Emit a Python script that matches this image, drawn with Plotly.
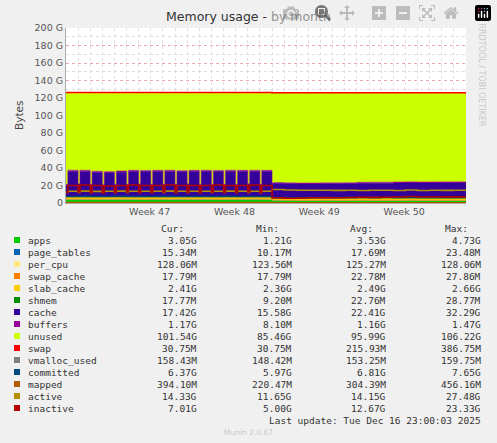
import plotly.graph_objects as go

# time axis: days since start of month view, two samples per day (daily notch + rest of day)
days = list(range(34))

# values in GB, one per day; "_lo" = short dip at start of each day
apps = [4.3, 4.3, 4.2, 4.3, 4.4, 4.3, 4.2, 4.3, 4.3, 4.4, 4.3, 4.3, 4.2, 4.3, 4.3, 4.4, 4.3,
        3.2, 3.1, 3.0, 3.0, 3.1, 3.0, 3.0, 3.1, 3.0, 3.0, 3.0, 3.1, 3.0, 3.0, 3.0, 3.0, 3.05]
page_tables = [0.02] * 17 + [0.015] * 17
per_cpu = [0.125] * 34
swap_cache = [0.025] * 17 + [0.018] * 17
slab_cache = [2.6, 2.6, 2.5, 2.5, 2.6, 2.5, 2.5, 2.5, 2.6, 2.5, 2.5, 2.5, 2.5, 2.6, 2.5, 2.5, 2.5,
              2.4, 2.4, 2.4, 2.4, 2.4, 2.4, 2.4, 2.4, 2.4, 2.4, 2.4, 2.4, 2.4, 2.4, 2.4, 2.4, 2.41]
shmem = [0.025] * 17 + [0.018] * 17
cache_hi = [29.0, 29.0, 28.0, 27.5, 28.0, 29.0, 29.0, 29.0, 29.0, 28.5, 29.0, 29.0, 29.0, 29.0, 29.0, 29.0, 29.0,
            16.5, 16.2, 16.0, 16.0, 16.2, 16.3, 16.5, 16.8, 17.0, 17.0, 17.2, 17.3, 17.2, 17.3, 17.4, 17.4, 17.42]
cache_lo = [13.0, 13.5, 13.0, 12.5, 13.0, 13.0, 13.5, 13.0, 13.0, 13.0, 13.5, 13.0, 13.0, 13.0, 13.0, 13.5, 13.0,
            16.0, 16.2, 16.0, 16.0, 16.2, 16.3, 16.5, 16.8, 17.0, 17.0, 17.2, 17.3, 17.2, 17.3, 17.4, 17.4, 17.42]
buffers = [1.35] * 17 + [1.15] * 17
unused_hi = [88.5, 88.5, 89.6, 90.0, 89.3, 88.5, 88.6, 88.5, 88.4, 89.0, 88.5, 88.5, 88.6, 88.5, 88.5, 88.4, 88.5,
             102.6, 103.0, 103.3, 103.3, 103.0, 103.0, 102.8, 102.4, 102.3, 102.3, 102.1, 101.9, 102.1, 102.0, 101.9, 101.9, 101.54]
unused_lo = [104.5, 104.0, 104.6, 105.0, 104.3, 104.5, 104.1, 104.5, 104.4, 104.5, 104.0, 104.5, 104.6, 104.5, 104.5, 103.9, 104.5,
             103.1, 103.0, 103.3, 103.3, 103.0, 103.0, 102.8, 102.4, 102.3, 102.3, 102.1, 101.9, 102.1, 102.0, 101.9, 101.9, 101.54]
swap = [0.38] * 17 + [0.03] * 17
vmalloc_used = [0.16] * 17 + [0.155] * 17
committed = [7.5, 7.6, 7.4, 7.5, 7.6, 7.5, 7.4, 7.5, 7.6, 7.5, 7.5, 7.4, 7.5, 7.6, 7.5, 7.5, 7.5,
             6.1, 6.0, 6.2, 6.3, 6.2, 6.3, 6.4, 6.3, 6.4, 6.5, 6.4, 6.3, 6.4, 6.4, 6.3, 6.4, 6.37]
mapped = [0.42] * 17 + [0.3] * 17
active_hi = [13.5, 13.6, 13.3, 13.5, 13.6, 13.5, 13.4, 13.5, 13.6, 13.5, 13.5, 13.4, 13.5, 13.6, 13.5, 13.5, 13.5,
             15.5, 14.8, 14.5, 14.6, 14.5, 14.4, 14.5, 14.3, 14.6, 14.5, 14.2, 14.8, 14.3, 14.5, 14.4, 14.5, 14.33]
active_lo = [12.0, 12.2, 12.0, 12.1, 12.0, 12.2, 12.0, 12.1, 12.0, 12.0, 12.2, 12.0, 12.1, 12.0, 12.0, 12.1, 12.0,
             15.5, 14.8, 14.5, 14.6, 14.5, 14.4, 14.5, 14.3, 14.6, 14.5, 14.2, 14.8, 14.3, 14.5, 14.4, 14.5, 14.33]
inactive_hi = [20.0, 20.5, 20.0, 19.5, 20.0, 20.5, 20.0, 20.0, 20.5, 20.0, 20.0, 20.0, 20.5, 20.0, 20.0, 20.5, 20.0,
               6.0, 5.5, 5.8, 6.0, 6.2, 6.0, 6.3, 6.5, 6.4, 6.6, 6.8, 7.5, 6.8, 6.9, 7.0, 7.0, 7.01]
inactive_lo = [12.0, 12.5, 12.0, 11.5, 12.0, 12.5, 12.0, 12.0, 12.5, 12.0, 12.0, 12.0, 12.5, 12.0, 12.0, 12.5, 12.0,
               6.0, 5.5, 5.8, 6.0, 6.2, 6.0, 6.3, 6.5, 6.4, 6.6, 6.8, 7.5, 6.8, 6.9, 7.0, 7.0, 7.01]

names = ["apps", "page_tables", "per_cpu", "swap_cache", "slab_cache", "shmem", "cache", "buffers",
         "unused", "swap", "vmalloc_used", "committed", "mapped", "active", "inactive"]
colors = ["#00CC00", "#0066B3", "#FFE680", "#FF8000", "#FFCC00", "#008F00", "#330099", "#990099",
          "#CCFF00", "#FF0000", "#808080", "#00487D", "#B35A00", "#B38F00", "#B30000"]
cur = ["3.05G", "15.34M", "128.06M", "17.79M", "2.41G", "17.77M", "17.42G", "1.17G", "101.54G",
       "30.75M", "158.43M", "6.37G", "394.10M", "14.33G", "7.01G"]
mins = ["1.21G", "10.17M", "123.56M", "17.79M", "2.36G", "9.20M", "15.58G", "8.10M", "85.46G",
        "30.75M", "148.42M", "5.97G", "220.47M", "11.65G", "5.00G"]
avgs = ["3.53G", "17.69M", "125.27M", "22.78M", "2.49G", "22.76M", "22.41G", "1.16G", "95.99G",
        "215.93M", "153.25M", "6.81G", "304.39M", "14.15G", "12.67G"]
maxs = ["4.73G", "23.48M", "128.06M", "27.86M", "2.66G", "28.77M", "32.29G", "1.47G", "106.22G",
        "386.75M", "159.75M", "7.65G", "456.16M", "27.48G", "23.33G"]
week_pos = [6.9, 13.9, 20.9, 27.9]
week_labels = ["Week 47", "Week 48", "Week 49", "Week 50"]
ytick_vals = [0, 20, 40, 60, 80, 100, 120, 140, 160, 180, 200]
ytick_text = ["0", "20 G", "40 G", "60 G", "80 G", "100 G", "120 G", "140 G", "160 G", "180 G", "200 G"]


def expand(lo, hi):
    out = []
    for a, b in zip(lo, hi):
        out += [a * 1e9, b * 1e9]
    return out


x = []
for d in days:
    x += [d, d + 0.15]

series = {
    "apps": expand(apps, apps), "page_tables": expand(page_tables, page_tables),
    "per_cpu": expand(per_cpu, per_cpu), "swap_cache": expand(swap_cache, swap_cache),
    "slab_cache": expand(slab_cache, slab_cache), "shmem": expand(shmem, shmem),
    "cache": expand(cache_lo, cache_hi), "buffers": expand(buffers, buffers),
    "unused": expand(unused_lo, unused_hi), "swap": expand(swap, swap),
    "vmalloc_used": expand(vmalloc_used, vmalloc_used), "committed": expand(committed, committed),
    "mapped": expand(mapped, mapped), "active": expand(active_lo, active_hi),
    "inactive": expand(inactive_lo, inactive_hi),
}
stacked = names[:10]

fig = go.Figure()
for n, c in zip(names, colors):
    if n in stacked:
        fig.add_trace(go.Scatter(x=x, y=series[n], stackgroup="mem", mode="lines",
                                 line=dict(width=0.6 if n != "swap" else 1.5, color=c, shape="hv"),
                                 fillcolor=c, name=n))
    else:
        fig.add_trace(go.Scatter(x=x, y=series[n], mode="lines",
                                 line=dict(width=1.6, color=c, shape="hv"), name=n))

L, R, T, B = 66, 466, 28, 203


def px(xp):
    return (xp - L) / (R - L)


def py(yp):
    return (B - yp) / (B - T)


mono = dict(family="DejaVu Sans Mono", size=9.5, color="#333333")
ann = [
    dict(text="Memory usage - by month", x=px(248), y=py(17), font=dict(family="DejaVu Sans", size=12.5, color="#333333")),
    dict(text="Bytes", x=px(11), y=py(115), textangle=-90, font=dict(family="DejaVu Sans", size=10.5, color="#444444")),
    dict(text="RRDTOOL / TOBI OETIKER", x=px(488), y=py(75), textangle=90, font=dict(family="DejaVu Sans", size=8, color="#c8c8c8")),
    dict(text="Munin 2.0.67", x=px(248), y=py(432), font=dict(family="DejaVu Sans", size=7.5, color="#c8c8c8")),
    dict(text="Last update: Tue Dec 16 23:00:03 2025", x=px(483), y=py(420), xanchor="right", font=mono),
]
for label, xr in zip(["Cur:", "Min:", "Avg:", "Max:"], [186, 281, 375, 470]):
    ann.append(dict(text=label, x=px(xr), y=py(228), xanchor="right", font=mono))
shapes = []
for i, n in enumerate(names):
    yy = 240 + i * 12
    ann.append(dict(text=n, x=px(26), y=py(yy), xanchor="left", font=mono))
    for vals, xr in zip([cur, mins, avgs, maxs], [199, 294, 388, 483]):
        ann.append(dict(text=vals[i], x=px(xr), y=py(yy), xanchor="right", font=mono))
    shapes.append(dict(type="rect", xref="paper", yref="paper", x0=px(14), x1=px(20),
                       y0=py(yy + 3), y1=py(yy - 3), fillcolor=colors[i], line=dict(width=0)))
for a in ann:
    a.update(xref="paper", yref="paper", showarrow=False, yanchor=a.get("yanchor", "middle"))

fig.update_layout(
    width=497, height=443, margin=dict(l=L, r=497 - R, t=T, b=443 - B),
    paper_bgcolor="#F0F0F0", plot_bgcolor="white", showlegend=False,
    annotations=ann, shapes=shapes,
    xaxis=dict(range=[0, 33], tickvals=week_pos, ticktext=week_labels, showgrid=False,
               tickfont=dict(family="DejaVu Sans", size=9.5, color="#555555"), ticks="",
               minor=dict(dtick=1, tick0=0, showgrid=True, gridcolor="#e0e0e0", griddash="dot"),
               showline=True, linecolor="#aaaaaa", zeroline=False),
    yaxis=dict(range=[0, 200e9], tickvals=[v * 1e9 for v in ytick_vals], ticktext=ytick_text,
               showgrid=True, gridcolor="#eeaaaa", griddash="dot", gridwidth=1,
               minor=dict(dtick=10e9, tick0=0, showgrid=True, gridcolor="#dddddd", griddash="dot"),
               tickfont=dict(family="DejaVu Sans", size=9.5, color="#555555"), ticks="",
               showline=True, linecolor="#aaaaaa", zeroline=False),
)

# drop the browser's default page margin so the figure sits at the window's top-left corner
fig.write_html("out.html", post_script="document.body.style.margin='0';")
